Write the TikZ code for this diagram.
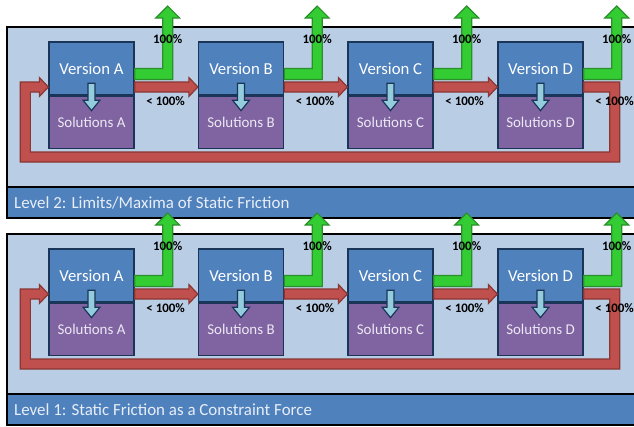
\documentclass[tikz,border=0pt]{standalone}
\usepackage{fontspec}
\setmainfont{Carlito}
\usetikzlibrary{positioning,calc}

\definecolor{panelbg}{HTML}{B9CDE5}
\definecolor{bandblue}{HTML}{4F81BD}
\definecolor{bandtext}{RGB}{232,238,247}
\definecolor{verblue}{HTML}{4F81BD}
\definecolor{solpurple}{HTML}{8064A2}
\definecolor{soltext}{RGB}{236,232,243}
\definecolor{boxline}{HTML}{1B3558}
\definecolor{greenfill}{HTML}{33CC33}
\definecolor{greenline}{HTML}{2B8F2B}
\definecolor{redfill}{HTML}{C0504D}
\definecolor{redline}{HTML}{8A3633}
\definecolor{cyanfill}{HTML}{93CDDD}
\definecolor{cyanline}{HTML}{1B3558}

\begin{document}
\begin{tikzpicture}[x=1bp,y=-1bp,
    panel/.style={draw=black, fill=panelbg, line width=1.2bp},
    band/.style={draw=black, fill=bandblue, line width=1.2bp},
    bandtext/.style={text=bandtext, inner sep=0pt, font=\fontsize{17}{20}\selectfont},
    verbox/.style={draw=boxline, line width=1.3bp, fill=verblue, minimum width=85bp,
      minimum height=53bp, inner sep=0pt, text=white, font=\fontsize{16.8}{19}\selectfont},
    solbox/.style={draw=boxline, line width=1.3bp, fill=solpurple, minimum width=85bp,
      minimum height=52bp, inner sep=0pt, text=soltext, font=\fontsize{15}{17}\selectfont},
    greenarrow/.style={draw=greenline, fill=greenfill, line width=1.2bp},
    redarrow/.style={draw=redline, fill=redfill, line width=1.2bp},
    cyanarrow/.style={draw=cyanline, fill=cyanfill, line width=1.2bp},
    pct/.style={inner sep=0pt, font=\bfseries\fontsize{13}{15}\selectfont}]

  \useasboundingbox (0,0) rectangle (634,426);
  \clip (0,0) rectangle (634,426);

  \foreach \lv/\dy/\title in {2/0/{Limits/Maxima of Static Friction},
                               1/207/{Static Friction as a Constraint Force}} {

    % panel and its band
    \filldraw[panel] (7,27+\dy) rectangle (650,218+\dy);
    \filldraw[band] (7,187+\dy) rectangle (650,218+\dy);
    \node[bandtext, anchor=west] (title\lv) at (14,202.5+\dy) {Level \lv: \title};

    % versions and solutions
    \foreach \ch/\px in {A/91.5,B/241,C/390.5,D/540.5} {
      \node[verbox] (ver\ch\lv) at (\px,68.5+\dy) {Version \ch};
      \node[solbox, below=0pt of ver\ch\lv] (sol\ch\lv) {Solutions \ch};
    }

    % 100% goes up
    \foreach \ch in {A,B,C,D}
      \filldraw[greenarrow, shift={(ver\ch\lv.east)}] (0,0) -- (28,0) -- (28,-50.5)
        -- (21,-50.5) -- (33,-62.5) -- (45,-50.5) -- (38,-50.5) -- (38,11) -- (0,11) -- cycle;

    % < 100% goes on
    \foreach \a/\b in {A/B,B/C,C/D}
      \filldraw[redarrow] ($(ver\a\lv.east)+(0,13.5)$) -- ($(ver\b\lv.west)+(-9,13.5)$)
        -- ($(ver\b\lv.west)+(-9,9)$) -- ($(ver\b\lv.west)+(0,18.5)$)
        -- ($(ver\b\lv.west)+(-9,28)$) -- ($(ver\b\lv.west)+(-9,23.5)$)
        -- ($(ver\a\lv.east)+(0,23.5)$) -- cycle;

    % back round to the first version
    \filldraw[redarrow] ($(verD\lv.east)+(0,13.5)$) -- ++(36,0) -- ++(0,80)
      -- ($(verA\lv.west)+(-28,93.5)$) -- ++(0,-80) -- ($(verA\lv.west)+(-9,13.5)$)
      -- ++(0,-4.5) -- ($(verA\lv.west)+(0,18.5)$) -- ++(-9,9.5) -- ++(0,-4.5) -- ++(-9,0)
      -- ++(0,60) -- ($(verD\lv.east)+(26,83.5)$) -- ++(0,-60)
      -- ($(verD\lv.east)+(0,23.5)$) -- cycle;

    % version to solutions
    \foreach \ch in {A,B,C,D}
      \filldraw[cyanarrow, shift={(ver\ch\lv.south)}] (-3.5,-12.5) -- (3.5,-12.5) -- (3.5,4.5)
        -- (8.5,4.5) -- (0,15) -- (-8.5,4.5) -- (-3.5,4.5) -- cycle;

    \foreach \ch in {A,B,C,D} {
      \node[pct] (full\ch\lv) at ($(ver\ch\lv.east)+(33,-29.5)$) {100\%};
      \node[pct] (part\ch\lv) at ($(ver\ch\lv.east)+(31,32.5)$) {< 100\%};
    }
  }

\end{tikzpicture}
\end{document}
